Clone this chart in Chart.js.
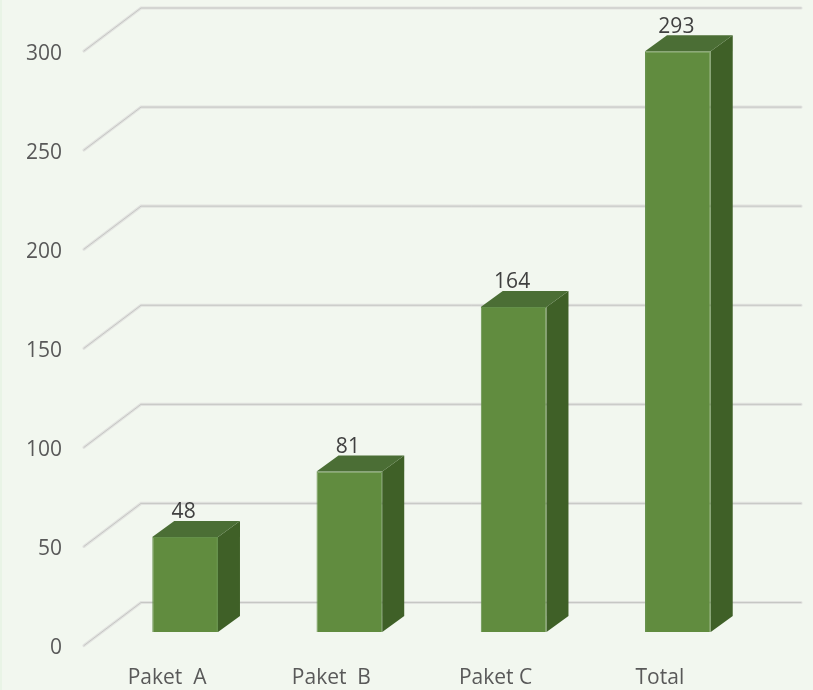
<!DOCTYPE html>
<html lang="en">
<head>
    <meta charset="UTF-8">
    <title>Paket</title>
    <style>
        html, body {
            margin: 0;
            padding: 0;
            background-color: #f2f7ef;
        }

        body {
            width: 813px;
            height: 690px;
            overflow: hidden;
            box-shadow: inset 2px 0 0 #e9f4e6;
        }

        canvas {
            display: block;
        }
    </style>
</head>
<body>
    <canvas id="chart" width="813" height="690"></canvas>

    <script src="https://cdn.jsdelivr.net/npm/chart.js"></script>
    <script>
        const categories = ['Paket  A', 'Paket  B', 'Paket C', 'Total'];
        const values = [48, 81, 164, 293];
        const yTicks = [0, 50, 100, 150, 200, 250, 300];

        const fontFamily = '"Open Sans", sans-serif';

        // offsets from the scale plane to the drawn planes
        const frontShift = { x: -1, y: -3 };
        const barShift = { x: 18, y: -16.5 };
        const wallShift = { x: 56, y: -46 };
        const depth = { x: 22, y: -16 };
        const wallRight = 801;

        function strokeGrid(ctx, points) {
            [[3.2, '#e2e3e0'], [1, '#c6c7c4']].forEach(([width, color]) => {
                ctx.lineWidth = width;
                ctx.strokeStyle = color;
                ctx.beginPath();
                points.forEach((p, i) => i ? ctx.lineTo(p[0], p[1]) : ctx.moveTo(p[0], p[1]));
                ctx.stroke();
            });
        }

        function fillFace(ctx, points, color) {
            ctx.fillStyle = color;
            ctx.beginPath();
            points.forEach((p, i) => i ? ctx.lineTo(p[0], p[1]) : ctx.moveTo(p[0], p[1]));
            ctx.closePath();
            ctx.fill();
        }

        const box3d = {
            id: 'box3d',
            beforeDatasetsDraw(chart) {
                const ctx = chart.ctx;
                const scale = chart.scales.y;
                const left = chart.chartArea.left;

                ctx.save();
                ctx.lineCap = 'round';
                yTicks.forEach(tick => {
                    const y = scale.getPixelForValue(tick);
                    strokeGrid(ctx, [
                        [left + frontShift.x, y + frontShift.y],
                        [left + wallShift.x, y + wallShift.y],
                        [wallRight, y + wallShift.y]
                    ]);
                });
                ctx.restore();

                ctx.save();
                ctx.translate(barShift.x, barShift.y);
            },
            afterDatasetsDraw(chart) {
                const ctx = chart.ctx;

                chart.getDatasetMeta(0).data.forEach((bar, i) => {
                    const x0 = bar.x - bar.width / 2;
                    const x1 = bar.x + bar.width / 2;

                    fillFace(ctx, [
                        [x1, bar.y],
                        [x1 + depth.x, bar.y + depth.y],
                        [x1 + depth.x, bar.base + depth.y],
                        [x1, bar.base]
                    ], '#3f6027');
                    fillFace(ctx, [
                        [x0, bar.y],
                        [x0 + depth.x, bar.y + depth.y],
                        [x1 + depth.x, bar.y + depth.y],
                        [x1, bar.y]
                    ], '#4b6e35');

                    ctx.fillStyle = '#404040';
                    ctx.font = '21px ' + fontFamily;
                    ctx.textAlign = 'center';
                    ctx.textBaseline = 'middle';
                    ctx.fillText(String(values[i]), bar.x - 1.5, bar.y - 24.5);
                });

                ctx.restore();
            }
        };

        new Chart(document.getElementById('chart'), {
            type: 'bar',
            data: {
                labels: categories,
                datasets: [{
                    data: values,
                    backgroundColor: '#618c3f',
                    borderColor: '#64904a',
                    borderWidth: 1,
                    barPercentage: 0.4,
                    categoryPercentage: 1
                }]
            },
            options: {
                responsive: false,
                animation: false,
                layout: {
                    padding: { top: 54, right: 71, bottom: 0, left: 0 }
                },
                plugins: {
                    legend: { display: false },
                    tooltip: { enabled: false }
                },
                scales: {
                    x: {
                        grid: { display: false, drawTicks: false },
                        border: { display: false },
                        afterFit(axis) { axis.height = 41.5; },
                        ticks: {
                            color: '#595959',
                            font: { family: fontFamily, size: 21 },
                            padding: 17,
                            maxRotation: 0
                        }
                    },
                    y: {
                        min: 0,
                        max: 300,
                        grid: { display: false, drawTicks: false },
                        border: { display: false },
                        afterFit(axis) { axis.width = 85; },
                        afterBuildTicks(axis) { axis.ticks = yTicks.map(value => ({ value })); },
                        ticks: {
                            color: '#595959',
                            font: { family: fontFamily, size: 21 },
                            padding: 23
                        }
                    }
                }
            },
            plugins: [box3d]
        });
    </script>
</body>
</html>
